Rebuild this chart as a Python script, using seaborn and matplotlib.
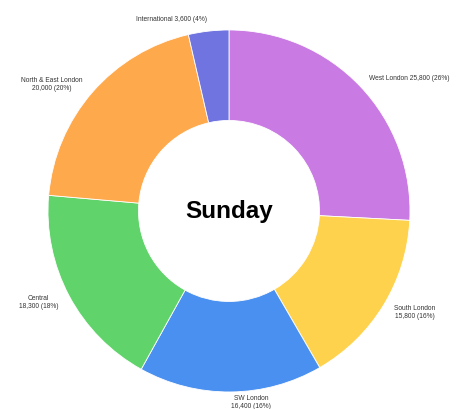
import matplotlib
matplotlib.use("Agg")
import matplotlib.pyplot as plt
import seaborn as sns

# Journeys starting on Sunday, by area
areas = ["West London", "South London", "SW London", "Central",
         "North & East London", "International"]
journeys = [25800, 15800, 16400, 18300, 20000, 3600]
colors = ["#C97BE3", "#FFD24D", "#4A90F0", "#60D36A", "#FFA94D", "#6F74E0"]
day = "Sunday"

sns.set_theme(style="white")
plt.rcParams["font.family"] = ["Liberation Sans", "DejaVu Sans"]

total = sum(journeys)
labels = []
for name, v in zip(areas, journeys):
    pct = round(100 * v / total)
    sep = " " if name in ("West London", "International") else "\n"
    labels.append(f"{name}{sep}{v:,} ({pct}%)")

fig = plt.figure(figsize=(4.65, 4.10), dpi=100)
ax = fig.add_axes([0.1032, 0.0415, 0.7785, 0.883])

wedges, texts = ax.pie(
    journeys,
    labels=labels,
    colors=sns.color_palette(colors),
    startangle=90,
    counterclock=False,
    radius=1.0,
    labeldistance=1.07,
    wedgeprops=dict(width=0.5, edgecolor="white", linewidth=0.6),
    textprops=dict(fontsize=4.8, color="#333333"),
)
for t in texts:
    t.set_multialignment("center")

# bottom label: hang it just under the ring so it stays on the canvas
x, _ = texts[2].get_position()
texts[2].set_position((x, -1.01))
texts[2].set_va("top")

ax.text(0, 0, day, ha="center", va="center", fontsize=17.5,
        fontweight="bold", color="black")

ax.set_xlim(-1, 1)
ax.set_ylim(-1, 1)
ax.set_aspect("equal")
ax.axis("off")

fig.savefig("out.png", dpi=100)
